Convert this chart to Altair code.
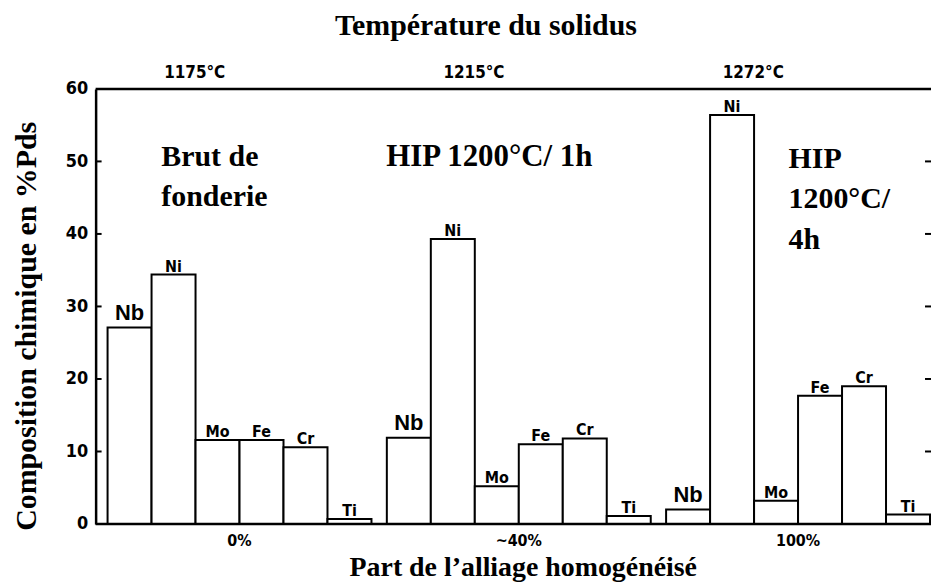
import altair as alt
import pandas as pd

# ---- data ----
elements = ["Nb", "Ni", "Mo", "Fe", "Cr", "Ti"]
groups = ["0%", "~40%", "100%"]
temperatures = ["1175°C", "1215°C", "1272°C"]
values_brut = [27.1, 34.4, 11.6, 11.6, 10.6, 0.7]
values_hip1h = [11.9, 39.3, 5.2, 11.0, 11.8, 1.1]
values_hip4h = [2.0, 56.4, 3.2, 17.7, 19.0, 1.3]
y_ticks = [0, 10, 20, 30, 40, 50, 60]
inner_ticks = [10, 20, 30, 40, 50]
frame_levels = [0, 60]

title_top = "Température du solidus"
title_x = "Part de l’alliage homogénéisé"
title_y = "Composition chimique en %Pds"
note_brut = ["Brut de", "fonderie"]
note_1h = ["HIP 1200°C/ 1h"]
note_4h = ["HIP", "1200°C/", "4h"]

rows = []
for g, vals in zip(groups, [values_brut, values_hip1h, values_hip4h]):
    for e, v in zip(elements, vals):
        rows.append({"group": g, "element": e, "value": v})
df = pd.DataFrame(rows)
temps_df = pd.DataFrame({"group": groups, "temp": temperatures})
ticks_df = pd.DataFrame({"tick": inner_ticks})
frame_df = pd.DataFrame({"level": frame_levels})
one_df = pd.DataFrame({"k": [0]})

W, H = 839, 437
SERIF = "Liberation Serif"
TICKFONT = "DejaVu Sans Condensed, DejaVu Sans"

x_scale = alt.Scale(domain=groups, range=[12, 838], paddingInner=0.055, paddingOuter=0)
xo_scale = alt.Scale(domain=elements, paddingInner=0, paddingOuter=0)
y_scale = alt.Scale(domain=[0, 60], nice=False)

base = alt.Chart(df)

bars = base.mark_bar(fill="white", stroke="black", strokeWidth=2).encode(
    x=alt.X(
        "group:N",
        scale=x_scale,
        axis=alt.Axis(
            orient="bottom", title=title_x, domain=False, ticks=False,
            labelFont=TICKFONT, labelFontSize=16, labelFontWeight="bold",
            labelColor="black", labelPadding=9, labelAngle=0,
            titleFont=SERIF, titleFontSize=28, titleFontWeight="bold",
            titleColor="black", titleX=429, titleY=52, titleAlign="center",
            titleBaseline="alphabetic",
        ),
    ),
    xOffset=alt.XOffset("element:N", scale=xo_scale),
    y=alt.Y(
        "value:Q",
        scale=y_scale,
        axis=alt.Axis(
            orient="left", values=y_ticks, ticks=False, grid=False,
            domain=True, domainColor="black", domainWidth=2.5,
            labelFont=TICKFONT, labelFontSize=18,
            labelFontWeight="bold", labelColor="black", labelPadding=8,
            title=title_y, titleFont=SERIF, titleFontSize=30,
            titleFontWeight="bold", titleColor="black", titleX=-60,
            titleY=238, titleAlign="center", titleBaseline="alphabetic",
            titleAngle=270,
        ),
    ),
)

# the other layers share the scales and leave the axes to the bar layer
small_labels = base.transform_filter(alt.datum.element != "Nb").mark_text(
    font=TICKFONT, fontSize=16, fontWeight="bold", baseline="alphabetic",
    dy=-3, color="black",
).encode(
    x=alt.X("group:N", scale=x_scale),
    xOffset=alt.XOffset("element:N", scale=xo_scale),
    y=alt.Y("value:Q", scale=y_scale),
    text="element:N",
)

nb_labels = base.transform_filter(alt.datum.element == "Nb").mark_text(
    font="Liberation Sans", fontSize=22, fontWeight="bold",
    baseline="alphabetic", dy=-8, color="black",
).encode(
    x=alt.X("group:N", scale=x_scale),
    xOffset=alt.XOffset("element:N", scale=xo_scale),
    y=alt.Y("value:Q", scale=y_scale),
    text="element:N",
)

temp_labels = alt.Chart(temps_df).mark_text(
    font=TICKFONT, fontSize=17, fontWeight="bold", baseline="alphabetic",
    dx=-45, color="black",
).encode(
    x=alt.X("group:N", scale=x_scale),
    y=alt.value(-11),
    text="temp:N",
)

frame = alt.Chart(frame_df).mark_rule(color="black", strokeWidth=2.5).encode(
    y=alt.Y("level:Q", scale=y_scale),
    x=alt.value(0),
    x2=alt.value(W),
)

left_ticks = alt.Chart(ticks_df).mark_rule(color="black", strokeWidth=2).encode(
    y=alt.Y("tick:Q", scale=y_scale),
    x=alt.value(0),
    x2=alt.value(6),
)
right_ticks = alt.Chart(ticks_df).mark_rule(color="black", strokeWidth=2).encode(
    y=alt.Y("tick:Q", scale=y_scale),
    x=alt.value(W - 6),
    x2=alt.value(W),
)


def note(lines, px, py, size=30, align="left"):
    return alt.Chart(one_df).mark_text(
        text=lines, font=SERIF, fontSize=size, fontWeight="bold",
        align=align, baseline="alphabetic", lineHeight=41, color="black",
    ).encode(x=alt.value(px), y=alt.value(py))


notes = (
    note(note_brut, 66, 77)
    + note(note_1h, 292, 77, size=31)
    + note(note_4h, 696, 79)
    + note([title_top], 392, -54, size=30, align="center")
)

chart = alt.layer(
    bars, small_labels, nb_labels, temp_labels, frame, left_ticks, right_ticks, notes
).properties(
    width=W,
    height=H,
    padding={"left": 88, "top": 80, "right": 0, "bottom": 58},
    autosize=alt.AutoSizeParams(type="none"),
).configure_view(stroke=None).configure_axis(grid=False)

chart.save("out.html", embed_options={"renderer": "svg", "actions": False})
